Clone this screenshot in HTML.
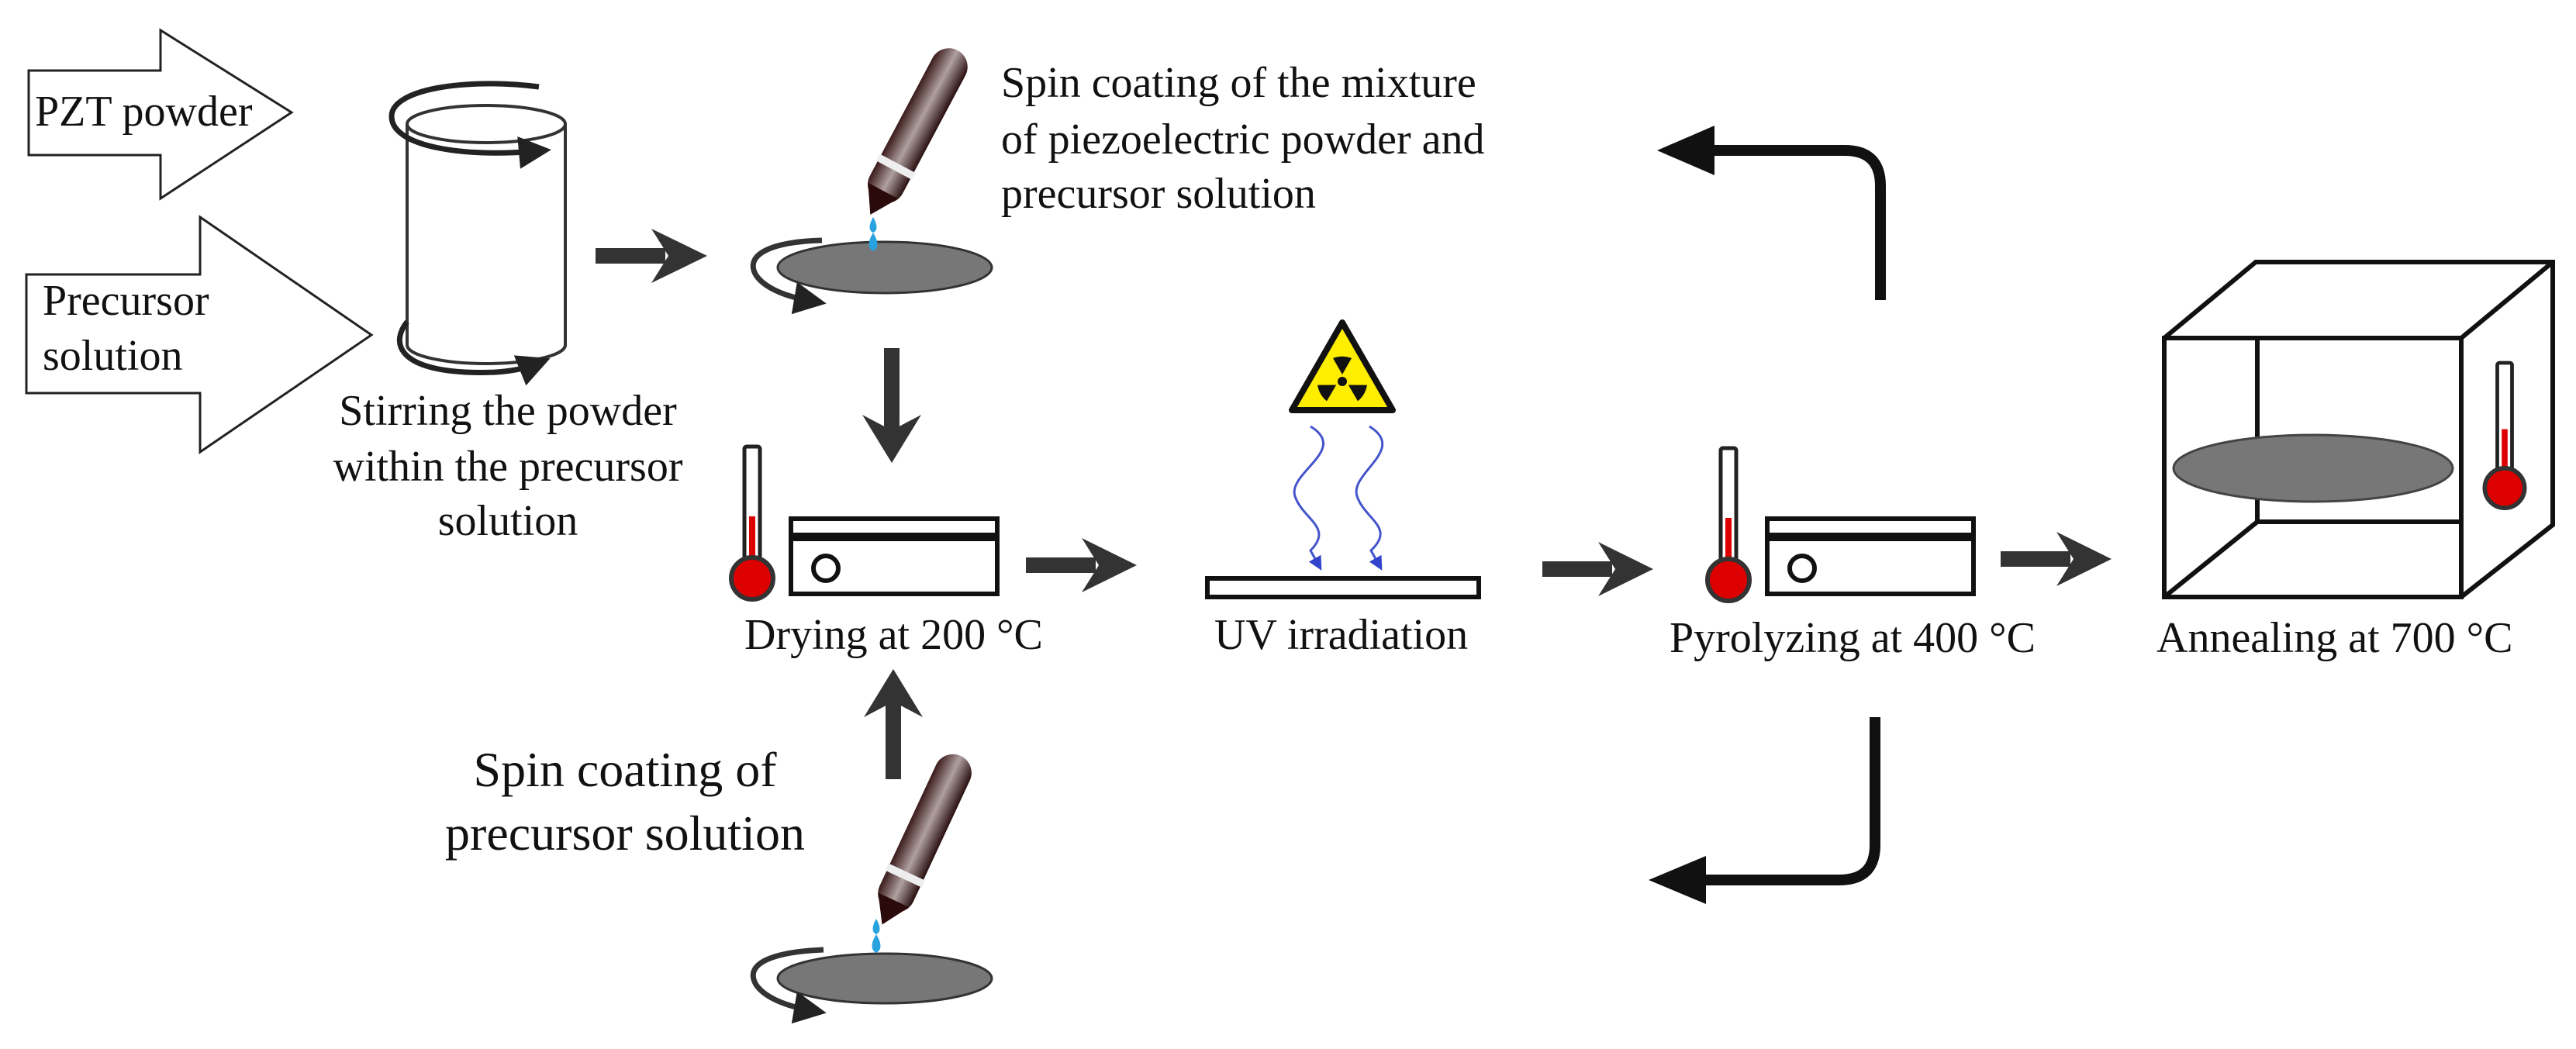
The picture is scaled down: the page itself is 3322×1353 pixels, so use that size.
<!DOCTYPE html>
<html><head><meta charset="utf-8"><style>
html,body{margin:0;padding:0;background:#fff}
svg{display:block}
svg text{font-family:"Liberation Serif","DejaVu Serif","Noto Serif CJK SC",serif}
</style></head><body>
<svg width="3322" height="1353" viewBox="0 0 3322 1353" xmlns="http://www.w3.org/2000/svg">
<defs>
<marker id="ah" markerWidth="6" markerHeight="6" refX="3" refY="3" orient="auto" markerUnits="strokeWidth"><path d="M0,0 L6,3 L0,6 z" fill="#222"/></marker>
<marker id="bh" markerWidth="6" markerHeight="6" refX="3" refY="3" orient="auto" markerUnits="strokeWidth"><path d="M0,0 L6,3 L0,6 z" fill="#3344cc"/></marker>
<linearGradient id="pip" x1="0" y1="0" x2="1" y2="0">
<stop offset="0" stop-color="#3a1a1a"/><stop offset="0.5" stop-color="#b0a0a0"/><stop offset="1" stop-color="#2a1010"/></linearGradient>
<g id="therm">
<rect x="-10" y="0" width="20" height="175" rx="3" fill="#fff" stroke="#222" stroke-width="5"/>
<rect x="-4" y="90" width="8" height="100" fill="#d00"/>
<circle cx="0" cy="170" r="27" fill="#d00" stroke="#333" stroke-width="6"/>
</g>
<g id="plate">
<rect x="0" y="0" width="266" height="21" fill="#fff" stroke="#111" stroke-width="6"/>
<rect x="0" y="26" width="266" height="71" fill="#fff" stroke="#111" stroke-width="6"/>
<circle cx="45" cy="64" r="16" fill="#fff" stroke="#111" stroke-width="6"/>
</g>
<g id="pipette">
<rect x="-24" y="0" width="48" height="220" rx="24" fill="url(#pip)"/>
<rect x="-26" y="165" width="52" height="10" fill="#eee"/>
<path d="M-22,205 L0,240 L22,205 z" fill="#2a0a0a"/>
</g>
</defs>

<g font-size="56" fill="#111">
<path d="M37,91 H207 V39 L376,145 L207,256 V200 H37 Z" fill="#fff" stroke="#222" stroke-width="3"/>
<text x="45" y="162">PZT powder</text>
<path d="M34,354 H258 V280 L479,432 L258,583 V507 H34 Z" fill="#fff" stroke="#222" stroke-width="3"/>
<text x="55" y="406">Precursor</text>
<text x="55" y="477">solution</text>

<path d="M525,160 V445 A102,24 0 0 0 729,445 V160" fill="#fff" stroke="#333" stroke-width="4"/>
<ellipse cx="627" cy="160" rx="102" ry="24" fill="#fff" stroke="#333" stroke-width="4"/>
<path d="M695,112 C600,100 505,115 505,150 C505,190 600,203 690,195" fill="none" stroke="#222" stroke-width="7" marker-end="url(#ah)"/>
<path d="M525,415 C505,440 510,475 600,480 C640,482 670,478 690,470" fill="none" stroke="#222" stroke-width="7" marker-end="url(#ah)"/>
<text x="655" y="548" text-anchor="middle">Stirring the powder</text>
<text x="655" y="620" text-anchor="middle">within the precursor</text>
<text x="655" y="690" text-anchor="middle">solution</text>

<g fill="#333">
<rect x="768" y="320" width="90" height="20"/><path d="M840,295 L912,330 L840,365 L862,330 z"/>
</g>

<ellipse cx="1141" cy="345" rx="138" ry="33" fill="#777" stroke="#333" stroke-width="3"/>
<path d="M1060,310 C990,312 960,330 975,355 C985,370 1010,382 1045,388" fill="none" stroke="#333" stroke-width="7" marker-end="url(#ah)"/>
<g transform="translate(1235,65) rotate(28)"><use href="#pipette"/></g>
<path d="M1126,280 q-9,16 0,20 q9,-4 0,-20z M1126,300 q-11,18 0,24 q11,-6 0,-24z" fill="#29a3e0"/>
<text x="1291" y="125">Spin coating of the mixture</text>
<text x="1291" y="198">of piezoelectric powder and</text>
<text x="1291" y="268">precursor solution</text>

<g fill="#333"><rect x="1140" y="449" width="20" height="110"/><path d="M1112,535 L1150,597 L1188,535 L1150,555z"/></g>

<use href="#therm" transform="translate(970,576)"/>
<use href="#plate" transform="translate(1020,669)"/>
<text x="960" y="837">Drying at 200 °C</text>
<g fill="#333"><rect x="1323" y="719" width="90" height="20"/><path d="M1395,694 L1466,729 L1395,764 L1417,729z"/></g>

<g fill="#333"><rect x="1142" y="900" width="20" height="105"/><path d="M1114,925 L1152,863 L1190,925 L1152,905z"/></g>
<text x="806" y="1014" font-size="64" text-anchor="middle">Spin coating of</text>
<text x="806" y="1096" font-size="64" text-anchor="middle">precursor solution</text>

<ellipse cx="1141" cy="1262" rx="138" ry="32" fill="#777" stroke="#333" stroke-width="3"/>
<path d="M1062,1225 C990,1228 960,1245 975,1270 C985,1285 1010,1297 1045,1303" fill="none" stroke="#333" stroke-width="7" marker-end="url(#ah)"/>
<g transform="translate(1239,975) rotate(25)"><use href="#pipette"/></g>
<path d="M1130,1185 q-9,16 0,20 q9,-4 0,-20z M1130,1205 q-11,18 0,24 q11,-6 0,-24z" fill="#29a3e0"/>

<path d="M1731,416 L1796,529 L1666,529 Z" fill="#ffee00" stroke="#111" stroke-width="8" stroke-linejoin="round"/>
<g fill="#111" transform="translate(1731,492)">
<circle r="6"/>
<path d="M0,-9 L-12,-30 A34,34 0 0 1 12,-30 Z"/>
<path d="M0,-9 L-12,-30 A34,34 0 0 1 12,-30 Z" transform="rotate(120)"/>
<path d="M0,-9 L-12,-30 A34,34 0 0 1 12,-30 Z" transform="rotate(240)"/>
</g>
<path d="M1690,550 C1740,580 1660,610 1670,640 C1680,670 1720,680 1690,710 L1700,728" fill="none" stroke="#4455cc" stroke-width="3" marker-end="url(#bh)"/>
<path d="M1766,550 C1815,580 1740,610 1750,640 C1760,670 1800,680 1768,710 L1778,728" fill="none" stroke="#4455cc" stroke-width="3" marker-end="url(#bh)"/>
<rect x="1557" y="746" width="350" height="24" fill="#fff" stroke="#111" stroke-width="6"/>
<text x="1566" y="837">UV irradiation</text>
<g fill="#333"><rect x="1989" y="724" width="90" height="20"/><path d="M2061,699 L2132,734 L2061,769 L2083,734z"/></g>

<use href="#therm" transform="translate(2229,578)"/>
<use href="#plate" transform="translate(2279,669)"/>
<text x="2153" y="841">Pyrolyzing at 400 °C</text>
<g fill="#333"><rect x="2580" y="711" width="90" height="20"/><path d="M2652,686 L2723,721 L2652,756 L2674,721z"/></g>

<g fill="none" stroke="#111" stroke-width="6" stroke-linejoin="miter">
<rect x="2791" y="436" width="383" height="334"/>
<path d="M2791,436 L2909,338 H3292 V677 L3174,770 M3174,436 L3292,338 M2911,436 V673 H3174 M2791,770 L2911,673"/>
</g>
<ellipse cx="2983" cy="604" rx="180" ry="43" fill="#777" stroke="#444" stroke-width="3"/>
<use href="#therm" transform="translate(3230,468) scale(0.95,0.95)"/>
<text x="2781" y="841">Annealing at 700 °C</text>

<path d="M2425,387 V240 Q2425,194 2379,194 H2195" fill="none" stroke="#111" stroke-width="14"/>
<path d="M2137,194 L2211,162 L2211,226 Z" fill="#111"/>
<path d="M2418,925 V1090 Q2418,1135 2372,1135 H2185" fill="none" stroke="#111" stroke-width="14"/>
<path d="M2126,1135 L2200,1104 L2200,1166 Z" fill="#111"/>
</g>
</svg>
</body></html>
